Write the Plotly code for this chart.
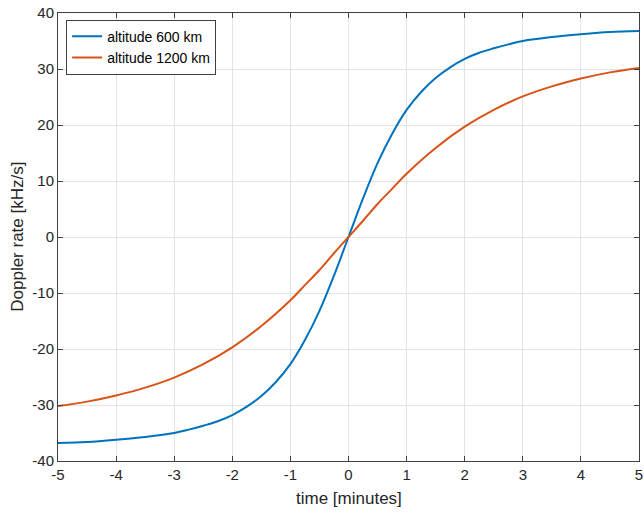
import plotly.graph_objects as go

# time [minutes] and Doppler values
t_blue = [-5, -4.5, -4, -3.5, -3, -2.75, -2.5, -2.25, -2, -1.75, -1.5, -1.25, -1, -0.75, -0.5, -0.25,
          0, 0.25, 0.5, 0.75, 1, 1.25, 1.5, 1.75, 2, 2.25, 2.5, 2.75, 3, 3.5, 4, 4.5, 5]
doppler_600 = [-36.8, -36.6, -36.2, -35.7, -35.0, -34.4, -33.7, -32.9, -31.8, -30.3, -28.4, -25.9, -22.7, -18.4, -13.2, -6.9,
               0, 6.9, 13.2, 18.4, 22.7, 25.9, 28.4, 30.3, 31.8, 32.9, 33.7, 34.4, 35.0, 35.7, 36.2, 36.6, 36.8]

t_orange = [-5, -4.5, -4, -3.5, -3, -2.5, -2, -1.5, -1, -0.75, -0.5, -0.25,
            0, 0.25, 0.5, 0.75, 1, 1.5, 2, 2.5, 3, 3.5, 4, 4.5, 5]
doppler_1200 = [-30.2, -29.4, -28.3, -26.9, -25.1, -22.7, -19.7, -15.9, -11.3, -8.6, -5.9, -2.9,
                0, 2.9, 5.9, 8.6, 11.3, 15.9, 19.7, 22.7, 25.1, 26.9, 28.3, 29.4, 30.2]

x_ticks = [-5, -4, -3, -2, -1, 0, 1, 2, 3, 4, 5]
y_ticks = [-40, -30, -20, -10, 0, 10, 20, 30, 40]

FONT = "Liberation Sans, Arial, Helvetica"

fig = go.Figure()
fig.add_trace(go.Scatter(x=t_blue, y=doppler_600, mode="lines", name="altitude 600 km",
                         line=dict(color="#0072BD", width=2, shape="spline")))
fig.add_trace(go.Scatter(x=t_orange, y=doppler_1200, mode="lines", name="altitude 1200 km",
                         line=dict(color="#D95319", width=2, shape="spline")))

axis_common = dict(
    showline=True, linecolor="#404040", linewidth=1, mirror="ticks",
    ticks="inside", ticklen=5, tickcolor="#404040",
    showgrid=True, gridcolor="#e3e3e3", gridwidth=1, zeroline=False,
    automargin=False, ticklabeloverflow="allow",
    tickfont=dict(family=FONT, size=15, color="#262626"),
)

fig.update_layout(
    width=644, height=514,
    margin=dict(l=58, r=5, t=13, b=53),
    paper_bgcolor="white", plot_bgcolor="white",
    font=dict(family=FONT, color="#262626"),
    xaxis=dict(range=[-5, 5], tickvals=x_ticks, ticktext=[str(v) for v in x_ticks], **axis_common),
    yaxis=dict(range=[-40, 40], tickvals=y_ticks, ticktext=[str(v) for v in y_ticks], **axis_common),
    legend=dict(x=0.014, y=0.985, xanchor="left", yanchor="top",
                bgcolor="white", bordercolor="#404040", borderwidth=1,
                font=dict(family=FONT, size=14, color="#000000"), tracegroupgap=0),
    showlegend=True,
    annotations=[
        dict(text="time [minutes]", x=0.5, y=-0.083, xref="paper", yref="paper",
             xanchor="center", yanchor="middle", showarrow=False,
             font=dict(family=FONT, size=17, color="#262626")),
        dict(text="Doppler rate [kHz/s]", x=-0.071, y=0.5, xref="paper", yref="paper",
             xanchor="center", yanchor="middle", showarrow=False, textangle=-90,
             font=dict(family=FONT, size=17, color="#262626")),
    ],
)

# remove the browser's default 8px body margin so the figure fills the window exactly
fig.write_html("out.html", config={"displayModeBar": False},
               post_script="document.body.style.margin='0px';document.body.style.overflow='hidden';")
